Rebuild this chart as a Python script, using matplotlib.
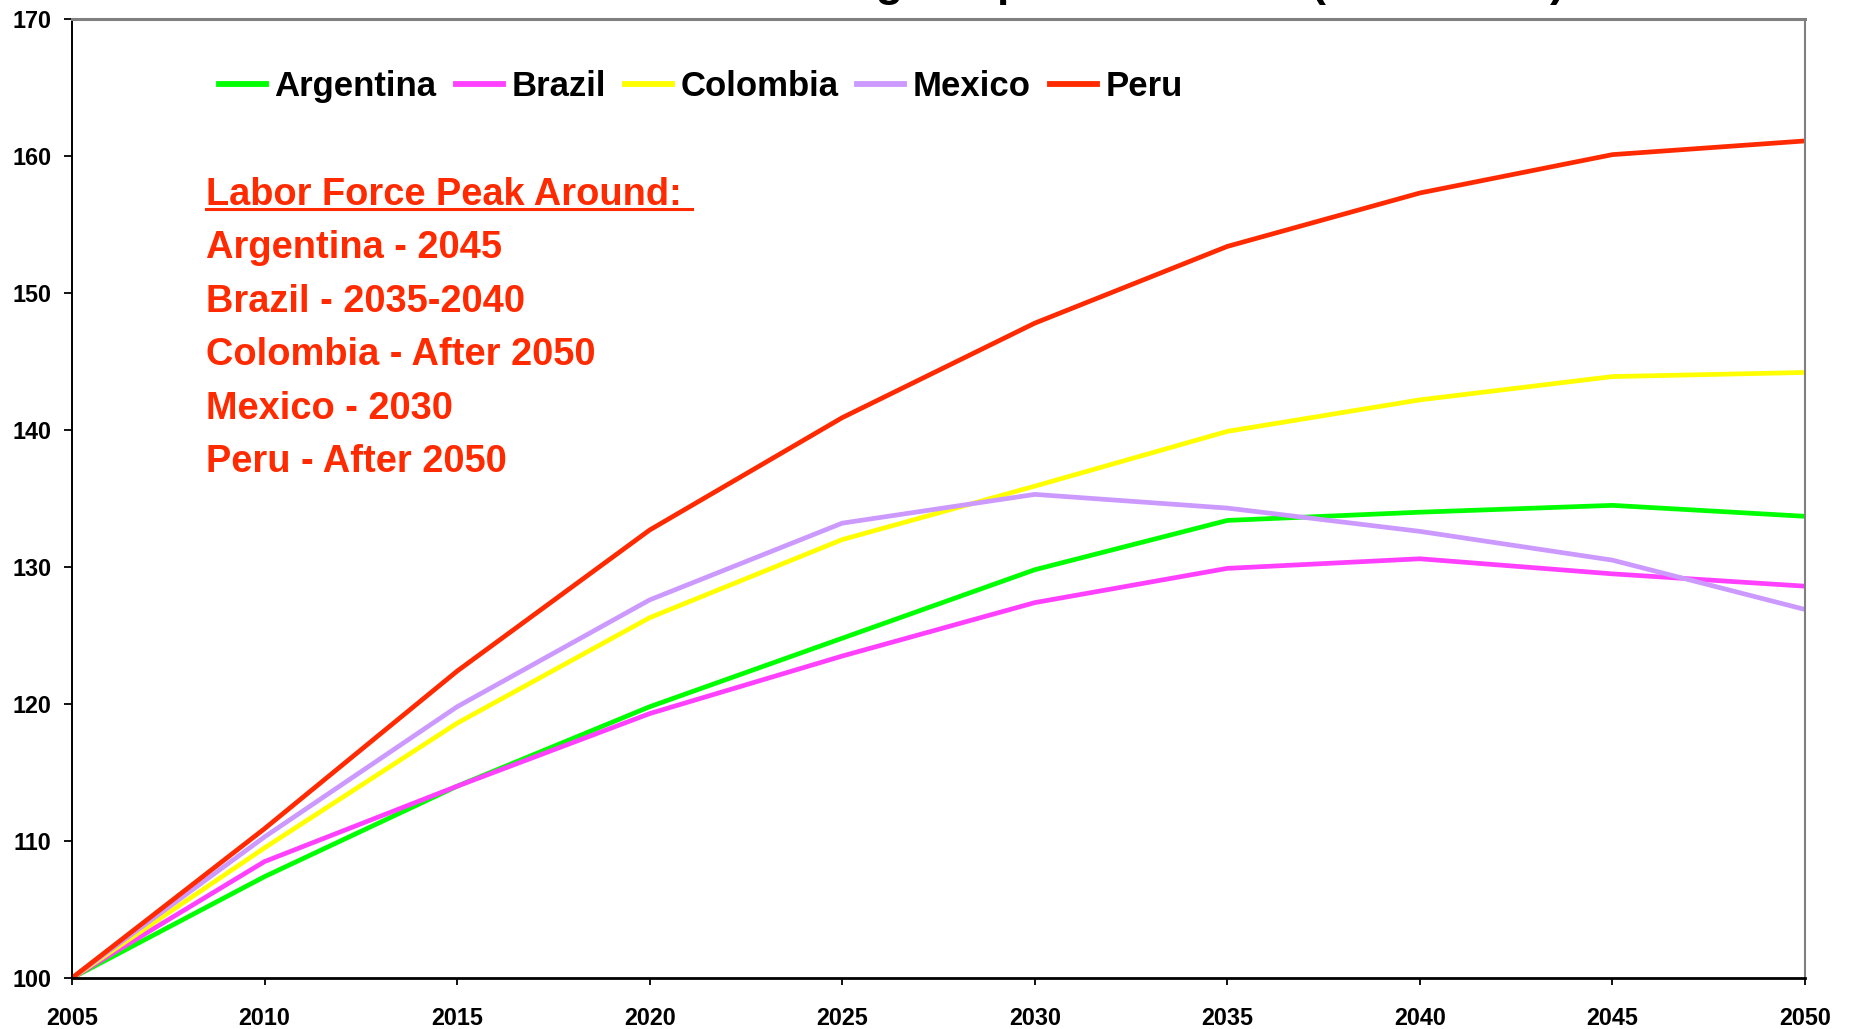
import matplotlib
matplotlib.use("Agg")
import matplotlib.pyplot as plt
from matplotlib.lines import Line2D

plt.rcParams["font.family"] = ["Liberation Sans", "DejaVu Sans"]
plt.rcParams["font.weight"] = "bold"

# ---- data ----------------------------------------------------------------
years = [2005, 2010, 2015, 2020, 2025, 2030, 2035, 2040, 2045, 2050]
argentina = [100, 107.4, 114.0, 119.8, 124.8, 129.8, 133.4, 134.0, 134.5, 133.7]
brazil = [100, 108.5, 114.0, 119.3, 123.5, 127.4, 129.9, 130.6, 129.5, 128.6]
colombia = [100, 109.5, 118.6, 126.3, 132.0, 135.9, 139.9, 142.2, 143.9, 144.2]
mexico = [100, 110.3, 119.8, 127.6, 133.2, 135.3, 134.3, 132.6, 130.5, 126.9]
peru = [100, 110.9, 122.4, 132.7, 140.9, 147.8, 153.4, 157.3, 160.1, 161.1]

countries = ["Argentina", "Brazil", "Colombia", "Mexico", "Peru"]
series = [argentina, brazil, colombia, mexico, peru]
colors = ["#00FF00", "#FF40FF", "#FFFF00", "#CC99FF", "#FF2A00"]

yticks = [100, 110, 120, 130, 140, 150, 160, 170]

title = "Latin America: Labor Force Age Population Index (2005 = 100)"
note_head = "Labor Force Peak Around: "
note_lines = ["Argentina - 2045", "Brazil - 2035-2040", "Colombia - After 2050",
              "Mexico - 2030", "Peru - After 2050"]

W, H = 1850, 1029
fig = plt.figure(figsize=(W / 100, H / 100), dpi=100)
ax = fig.add_axes([72 / W, 1 - 978 / H, (1805 - 72) / W, (978 - 19) / H])

for name, vals, c in zip(countries, series, colors):
    ax.plot(years, vals, color=c, lw=3.4, label=name, solid_capstyle="round",
            solid_joinstyle="round")

ax.set_xlim(2005, 2050)
ax.set_ylim(100, 170)
ax.set_xticks(years)
ax.set_yticks(yticks)
ax.tick_params(axis="x", direction="out", length=5, width=1.3, pad=16,
               labelsize=16.8, colors="black")
ax.tick_params(axis="y", direction="out", length=5.5, width=1.3, pad=9.5,
               labelsize=16.8, colors="black")
for lab in ax.get_xticklabels() + ax.get_yticklabels():
    lab.set_fontweight("bold")

ax.spines["left"].set_color("black")
ax.spines["left"].set_linewidth(1.4)
ax.spines["bottom"].set_color("black")
ax.spines["bottom"].set_linewidth(2.0)
ax.spines["top"].set_color("#808080")
ax.spines["top"].set_linewidth(2.2)
ax.spines["right"].set_color("#808080")
ax.spines["right"].set_linewidth(1.5)

# legend across the top of the plot
handles = [Line2D([], [], color=c, lw=4.2) for c in colors]
fig.legend(handles, countries, loc="center left",
           bbox_to_anchor=(219 / W, 1 - 86.5 / H), ncol=5, frameon=False,
           prop={"weight": "bold", "size": 25},
           handlelength=1.35, handletextpad=0.25, columnspacing=0.55,
           borderpad=0, borderaxespad=0)

# red note block, first line underlined
red = "#FF2A00"
head = fig.text(206 / W, 1 - 205 / H, note_head, color=red, fontsize=27.4,
                fontweight="bold", ha="left", va="baseline")
for i, line in enumerate(note_lines):
    fig.text(206 / W, 1 - (205 + 53.4 * (i + 1)) / H, line, color=red,
             fontsize=27.4, fontweight="bold", ha="left", va="baseline")
fig.canvas.draw()
bb = head.get_window_extent()
uy = bb.y0 + 4
fig.add_artist(Line2D([bb.x0 / W, bb.x1 / W], [uy / H, uy / H],
                      transform=fig.transFigure, color=red, lw=2.2))

# title sits mostly above the canvas, only descenders show
fig.text(1565 / W, 1 + 4 / H, title, fontsize=32, fontweight="bold",
         ha="right", va="baseline", color="black")

fig.savefig("out.png", dpi=100)
